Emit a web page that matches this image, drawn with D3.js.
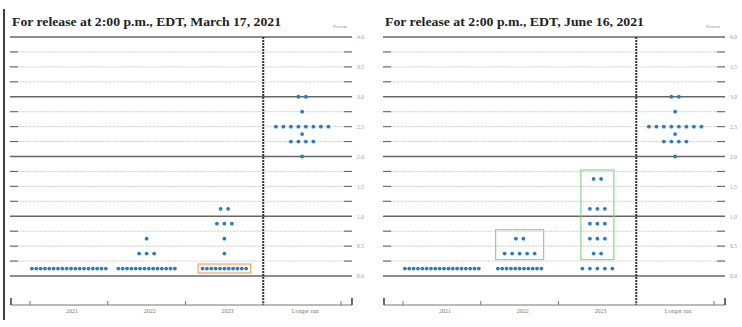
<!DOCTYPE html>
<html>
<head>
<meta charset="utf-8">
<script src="https://cdn.jsdelivr.net/npm/d3@7"></script>
<style>
  html, body { margin: 0; padding: 0; background: #fff; }
  svg { display: block; }
</style>
</head>
<body>
<svg id="chart" width="742" height="327"></svg>
<script>
// ---------- DATA ----------
const categories = ["2021", "2022", "2023", "Longer run"];
const yTicks = [0, 0.5, 1, 1.5, 2, 2.5, 3, 3.5, 4];
const yTickLabels = ["0.0", "0.5", "1.0", "1.5", "2.0", "2.5", "3.0", "3.5", "4.0"];

const marchTitle = "For release at 2:00 p.m., EDT, March 17, 2021";
// [rate, number of participants] per category
const march2021 = [[0.125, 18]];
const march2022 = [[0.125, 14], [0.375, 3], [0.625, 1]];
const march2023 = [[0.125, 11], [0.375, 1], [0.625, 1], [0.875, 3], [1.125, 2]];
const marchLonger = [[2.0, 1], [2.25, 4], [2.375, 1], [2.5, 8], [2.75, 1], [3.0, 2]];

const juneTitle = "For release at 2:00 p.m., EDT, June 16, 2021";
const june2021 = [[0.125, 18]];
const june2022 = [[0.125, 11], [0.375, 5], [0.625, 2]];
const june2023 = [[0.125, 5], [0.375, 2], [0.625, 3], [0.875, 3], [1.125, 3], [1.625, 2]];
const juneLonger = [[2.0, 1], [2.25, 4], [2.375, 1], [2.5, 8], [2.75, 1], [3.0, 2]];

// highlight boxes: [category, lowest rate, highest rate]
const marchBoxes = [["2023", 0.125, 0.125]];
const juneBoxes = [["2022", 0.375, 0.625], ["2023", 0.375, 1.625]];

// ---------- DRAW ----------
const svg = d3.select("#chart");
const DOT = "#2a7db8";

function drawPanel(ox, title, series, boxes, boxColor, boxMode, border) {
  const g = svg.append("g").attr("transform", `translate(${ox},0)`);
  const gx0 = 10, gx1 = 352;
  const y = d3.scaleLinear().domain([0, 4]).range([276, 37]);
  const x = d3.scaleBand().domain(categories).range([30, 341]).padding(0);
  const axisY = 305;

  if (border) {
    g.append("line").attr("x1", 4).attr("x2", 4).attr("y1", 9).attr("y2", 320)
      .attr("stroke", "#111").attr("stroke-width", 1.6);
  }

  // title
  g.append("text").attr("x", 12).attr("y", 26)
    .attr("font-family", "Liberation Serif, serif").attr("font-weight", "bold")
    .attr("font-size", 13).attr("fill", "#222")
    .attr("textLength", border ? 269 : 259).attr("lengthAdjust", "spacingAndGlyphs")
    .text(title);
  g.append("text").attr("x", 340).attr("y", 28).attr("text-anchor", "middle")
    .attr("font-family", "Liberation Serif, serif").attr("font-size", 4.5)
    .attr("fill", "#888").text("Percent");

  // gridlines
  const gridVals = d3.range(0, 4.001, 0.25);
  gridVals.forEach(v => {
    const yy = y(v);
    if (Math.abs(v - Math.round(v)) < 1e-6) {
      g.append("line").attr("x1", gx0).attr("x2", gx1).attr("y1", yy).attr("y2", yy)
        .attr("stroke", "#666").attr("stroke-width", 1.3);
    } else {
      g.append("line").attr("x1", gx0).attr("x2", gx1).attr("y1", yy).attr("y2", yy)
        .attr("stroke", "#bbb").attr("stroke-width", 0.8).attr("stroke-dasharray", "1.5,1");
      g.append("line").attr("x1", gx0).attr("x2", gx0 + 8).attr("y1", yy).attr("y2", yy)
        .attr("stroke", "#666").attr("stroke-width", 1.1);
      g.append("line").attr("x1", gx1 - 8).attr("x2", gx1).attr("y1", yy).attr("y2", yy)
        .attr("stroke", "#666").attr("stroke-width", 1.1);
    }
  });

  // right axis labels
  const ra = g.append("g").attr("transform", `translate(${gx1 + 3},0)`)
    .call(d3.axisRight(y).tickValues(yTicks).tickSize(0).tickPadding(2)
      .tickFormat((d, i) => yTickLabels[i]));
  ra.select(".domain").remove();
  ra.selectAll("text").attr("font-family", "Liberation Serif, serif")
    .attr("font-size", 5.5).attr("fill", "#999");

  // vertical dotted separator
  const sepX = x("Longer run");
  g.append("line").attr("x1", sepX).attr("x2", sepX).attr("y1", 37).attr("y2", axisY)
    .attr("stroke", "#333").attr("stroke-width", 2).attr("stroke-dasharray", "2,1");

  // bottom axis
  const ba = g.append("g").attr("transform", `translate(0,${axisY})`)
    .call(d3.axisBottom(x).tickSize(0).tickPadding(4));
  ba.select(".domain").remove();
  ba.selectAll("text").attr("font-family", "Liberation Serif, serif")
    .attr("font-size", 6).attr("fill", "#777").attr("dx", 3);
  g.append("line").attr("x1", 11).attr("x2", gx1).attr("y1", axisY).attr("y2", axisY)
    .attr("stroke", "#777").attr("stroke-width", 1.2);
  const bounds = categories.map(c => x(c)).concat([x.range()[1]]);
  bounds.forEach(b => {
    g.append("line").attr("x1", b).attr("x2", b).attr("y1", axisY - 4).attr("y2", axisY)
      .attr("stroke", "#777").attr("stroke-width", 1);
  });
  [11, gx1].forEach(b => {
    g.append("line").attr("x1", b).attr("x2", b).attr("y1", axisY - 7).attr("y2", axisY)
      .attr("stroke", "#444").attr("stroke-width", 1.6);
  });

  // dots
  const spacingFor = n => n > 8 ? 4.35 : 7.5;
  categories.forEach((c, ci) => {
    const cx = x(c) + x.bandwidth() / 2;
    series[ci].forEach(([rate, n]) => {
      const s = spacingFor(n);
      d3.range(n).forEach(i => {
        g.append("circle").attr("cx", cx + (i - (n - 1) / 2) * s).attr("cy", y(rate))
          .attr("r", 1.9).attr("fill", DOT);
      });
    });
  });

  // boxes
  boxes.forEach(([c, lo, hi]) => {
    const cx = x(c) + x.bandwidth() / 2;
    const rows = series[categories.indexOf(c)].filter(r => r[0] >= lo && r[0] <= hi);
    const maxW = d3.max(rows, r => (r[1] - 1) * spacingFor(r[1]));
    const padX = boxMode === "tight" ? 4.5 : 9;
    const yTop = boxMode === "tight" ? y(hi) - 4.5 : y(hi + 0.15);
    const yBot = boxMode === "tight" ? y(lo) + 4.5 : y(lo - 0.1);
    g.append("rect").attr("x", cx - maxW / 2 - padX).attr("y", yTop)
      .attr("width", maxW + 2 * padX).attr("height", yBot - yTop)
      .attr("fill", "none").attr("stroke", boxColor).attr("stroke-width", 1.2);
  });
}

drawPanel(0, marchTitle, [march2021, march2022, march2023, marchLonger],
  marchBoxes, "#f4a460", "tight", true);
drawPanel(373, juneTitle, [june2021, june2022, june2023, juneLonger],
  juneBoxes, "#8fd48f", "loose", false);
</script>
</body>
</html>
